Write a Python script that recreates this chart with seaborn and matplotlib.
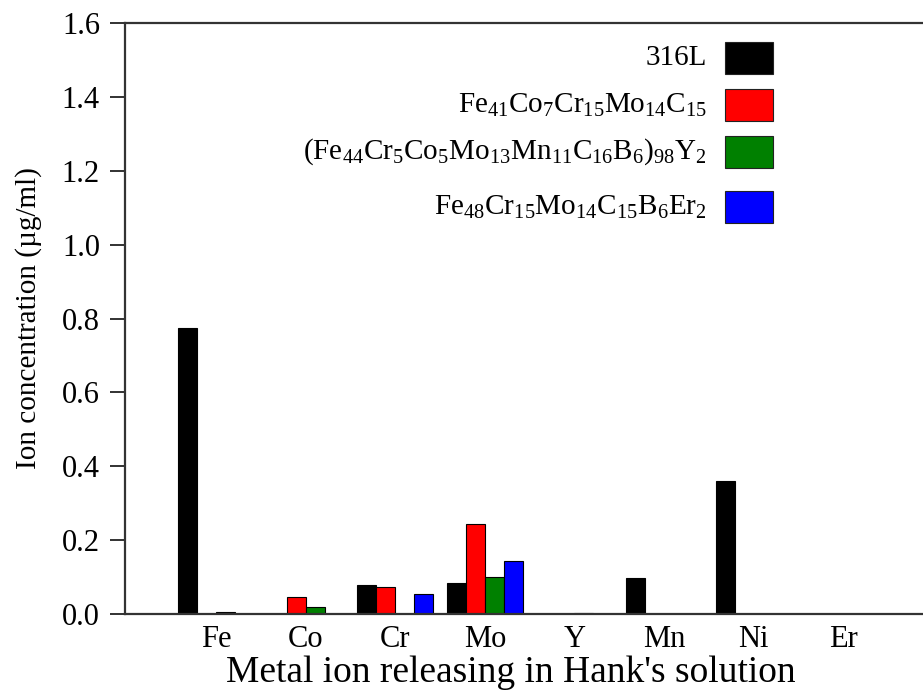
import matplotlib
matplotlib.use('Agg')
import matplotlib.pyplot as plt
import seaborn as sns
import pandas as pd
from matplotlib.patches import Rectangle

elements = ['Fe', 'Co', 'Cr', 'Mo', 'Y', 'Mn', 'Ni', 'Er']
alloys = ['316L',
          r'$\mathrm{Fe_{41}Co_{7}Cr_{15}Mo_{14}C_{15}}$',
          r'$\mathrm{(Fe_{44}Cr_{5}Co_{5}Mo_{13}Mn_{11}C_{16}B_{6})_{98}Y_{2}}$',
          r'$\mathrm{Fe_{48}Cr_{15}Mo_{14}C_{15}B_{6}Er_{2}}$']
s_316L = [0.773, 0.0, 0.079, 0.084, 0.0, 0.097, 0.359, 0.0]
s_FeCo = [0.0, 0.046, 0.073, 0.244, 0.0, 0.0, 0.0, 0.0]
s_FeY = [0.005, 0.019, 0.0, 0.100, 0.003, 0.0, 0.0, 0.0]
s_FeEr = [0.0, 0.0, 0.054, 0.144, 0.0, 0.0, 0.0, 0.0]
colors = ['#000000', '#ff0000', '#008000', '#0000ff']
yticks = [0.0, 0.2, 0.4, 0.6, 0.8, 1.0, 1.2, 1.4, 1.6]

rows = []
for a, vals in zip(alloys, [s_316L, s_FeCo, s_FeY, s_FeEr]):
    for e, v in zip(elements, vals):
        rows.append({'element': e, 'alloy': a, 'value': v})
df = pd.DataFrame(rows)

sns.set_theme(style='white')
plt.rcParams['font.family'] = ['Liberation Serif', 'DejaVu Serif']
plt.rcParams['mathtext.fontset'] = 'custom'
plt.rcParams['mathtext.rm'] = 'Liberation Serif'
plt.rcParams['mathtext.it'] = 'Liberation Serif:italic'

W, H = 923, 700
fig = plt.figure(figsize=(W / 100, H / 100), dpi=100)
ax = fig.add_axes([125 / W, 1 - 614 / H, 1 - 125 / W, (614 - 23) / H])

sns.barplot(data=df, x='element', y='value', hue='alloy', order=elements,
            hue_order=alloys, palette=colors, width=0.85, ax=ax,
            edgecolor='black', linewidth=0.8, legend=False, errorbar=None,
            saturation=1)

ax.set_xlim(-1.016, 7.89)
ax.set_ylim(0, 1.6)
ax.set_yticks(yticks)
ax.set_yticklabels([f'{v:.1f}' for v in yticks])
ax.tick_params(axis='y', direction='out', length=11, width=1.3, labelsize=22,
               left=True, colors='#222222', labelcolor='black', pad=7)
ax.tick_params(axis='x', length=0, labelsize=22, pad=8, labelcolor='black')
ax.set_xlabel("Metal ion releasing in Hank's solution", fontsize=27, color='black')
ax.set_ylabel('Ion concentration (\u00b5g/ml)', fontsize=21, color='black')
ax.xaxis.set_label_coords(0.484, -0.071)
ax.yaxis.set_label_coords(-0.104, 0.5)
for side in ['left', 'top', 'bottom']:
    ax.spines[side].set_visible(True)
    ax.spines[side].set_color('#333333')
    ax.spines[side].set_linewidth(1.6)
ax.spines['right'].set_visible(False)

# legend: text right-aligned, colour swatch at right
row_y = [58, 105, 152, 207]
for lab, c, yc in zip(alloys, colors, row_y):
    fig.patches.append(Rectangle((725 / W, 1 - (yc + 16) / H), 48 / W, 32 / H,
                                 transform=fig.transFigure, facecolor=c,
                                 edgecolor='#222222', linewidth=0.8))
    fig.text(707 / W, 1 - yc / H, lab, ha='right', va='center',
             fontsize=21, color='black')

fig.savefig('out.png', dpi=100)
